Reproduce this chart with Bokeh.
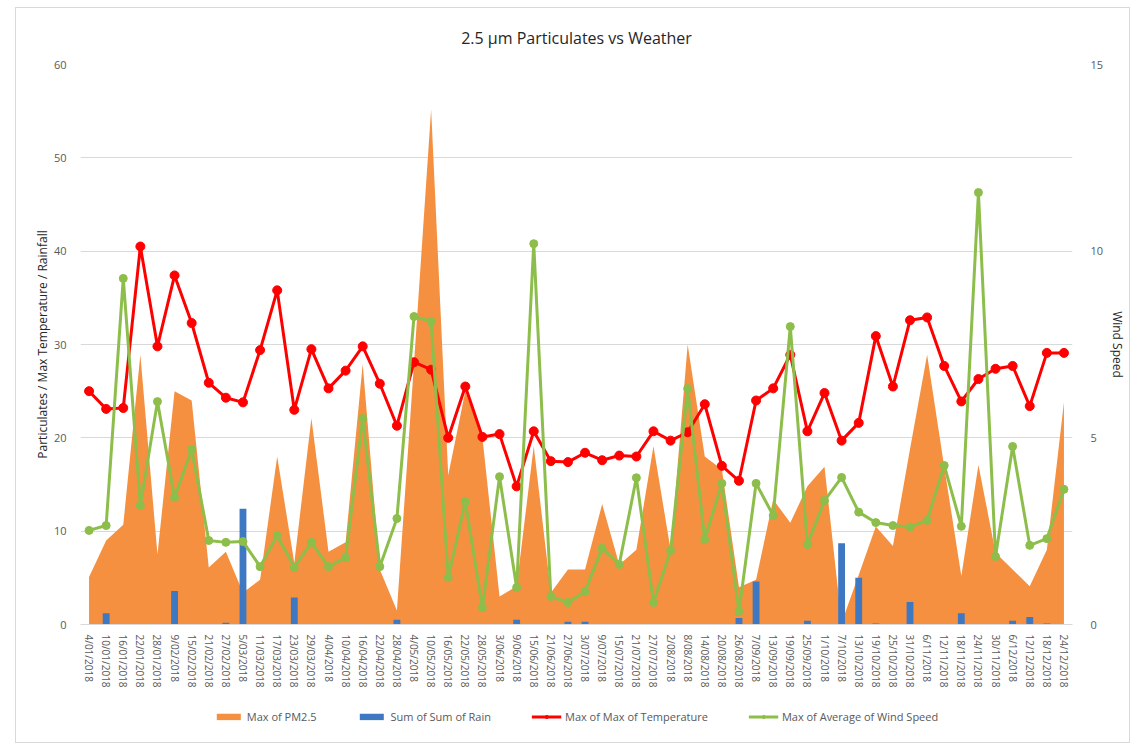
from bokeh.plotting import figure
from bokeh.models import (FactorRange, Range1d, LinearAxis, FixedTicker, Legend, LegendItem)
from bokeh.layouts import column
from bokeh.embed import file_html
from bokeh.resources import INLINE

dates = ["4/01/2018", "10/01/2018", "16/01/2018", "22/01/2018", "28/01/2018", "9/02/2018",
         "15/02/2018", "21/02/2018", "27/02/2018", "5/03/2018", "11/03/2018", "17/03/2018",
         "23/03/2018", "29/03/2018", "4/04/2018", "10/04/2018", "16/04/2018", "22/04/2018",
         "28/04/2018", "4/05/2018", "10/05/2018", "16/05/2018", "22/05/2018", "28/05/2018",
         "3/06/2018", "9/06/2018", "15/06/2018", "21/06/2018", "27/06/2018", "3/07/2018",
         "9/07/2018", "15/07/2018", "21/07/2018", "27/07/2018", "2/08/2018", "8/08/2018",
         "14/08/2018", "20/08/2018", "26/08/2018", "7/09/2018", "13/09/2018", "19/09/2018",
         "25/09/2018", "1/10/2018", "7/10/2018", "13/10/2018", "19/10/2018", "25/10/2018",
         "31/10/2018", "6/11/2018", "12/11/2018", "18/11/2018", "24/11/2018", "30/11/2018",
         "6/12/2018", "12/12/2018", "18/12/2018", "24/12/2018"]

pm25 = [5.1, 9.0, 10.7, 28.9, 7.5, 25.0, 24.0, 6.1, 7.8, 3.4, 4.8, 18.0, 6.6, 22.1, 7.8, 8.8,
        27.9, 5.9, 1.5, 28.0, 55.2, 16.0, 25.0, 20.0, 3.0, 4.1, 19.1, 3.4, 5.9, 5.9, 12.9, 6.4,
        8.0, 19.1, 8.0, 30.0, 18.0, 16.6, 4.0, 4.8, 13.4, 10.9, 14.8, 16.9, 0.2, 5.3, 10.5, 8.4,
        18.8, 28.9, 16.9, 5.2, 17.1, 7.7, 5.9, 4.1, 8.0, 23.8]

rain = [0, 1.2, 0, 0, 0, 3.6, 0, 0, 0.2, 12.4, 0, 0, 2.9, 0, 0, 0, 0, 0, 0.5, 0, 0, 0, 0, 0,
        0, 0.5, 0, 0, 0.3, 0.3, 0, 0, 0, 0, 0, 0, 0, 0, 0.7, 4.6, 0, 0, 0.4, 0, 8.7, 5.0, 0.1,
        0, 2.4, 0, 0, 1.2, 0, 0, 0.4, 0.8, 0.1, 0]

temperature = [25.0, 23.1, 23.2, 40.5, 29.8, 37.4, 32.3, 25.9, 24.3, 23.8, 29.4, 35.8, 23.0,
               29.5, 25.3, 27.2, 29.8, 25.8, 21.3, 28.1, 27.3, 20.0, 25.5, 20.1, 20.4, 14.8,
               20.7, 17.5, 17.4, 18.4, 17.6, 18.1, 18.0, 20.7, 19.7, 20.6, 23.6, 17.0, 15.4,
               24.0, 25.3, 28.9, 20.7, 24.8, 19.7, 21.6, 30.9, 25.5, 32.6, 32.9, 27.7, 23.9,
               26.3, 27.4, 27.7, 23.4, 29.1, 29.1]

wind = [2.52, 2.65, 9.27, 3.19, 5.97, 3.40, 4.69, 2.25, 2.20, 2.22, 1.55, 2.38, 1.53, 2.20,
        1.55, 1.79, 5.52, 1.55, 2.84, 8.25, 8.12, 1.26, 3.29, 0.45, 3.96, 0.99, 10.2, 0.75,
        0.59, 0.88, 2.04, 1.61, 3.93, 0.59, 1.98, 6.32, 2.28, 3.78, 0.35, 3.78, 2.92, 7.98,
        2.14, 3.32, 3.94, 3.01, 2.73, 2.65, 2.61, 2.79, 4.26, 2.63, 11.57, 1.82, 4.77, 2.12,
        2.30, 3.62]

left_ticks = [0, 10, 20, 30, 40, 50, 60]
right_ticks = [0, 5, 10, 15]

FONT = "Open Sans"
TXT = "#595959"
C_PM, C_RAIN, C_TEMP, C_WIND = "#F4903F", "#3F78C2", "#FF0000", "#8DBE4B"


def draw_series(fig, yname):
    r_area = fig.varea(x=dates, y1=[0] * len(dates), y2=pm25, fill_color=C_PM)
    r_bar = fig.vbar(x=dates, top=rain, width=0.4, fill_color=C_RAIN, line_color=None)
    r_tl = fig.line(x=dates, y=temperature, line_color=C_TEMP, line_width=3)
    r_ts = fig.scatter(x=dates, y=temperature, size=9, fill_color=C_TEMP, line_color=C_TEMP)
    r_wl = fig.line(x=dates, y=wind, line_color=C_WIND, line_width=3, y_range_name=yname)
    r_ws = fig.scatter(x=dates, y=wind, size=8, fill_color=C_WIND, line_color=C_WIND,
                       y_range_name=yname)
    return r_area, r_bar, r_tl, r_ts, r_wl, r_ws


p = figure(x_range=FactorRange(*dates, range_padding=0), y_range=Range1d(0, 60),
           frame_width=992, frame_height=560, output_backend="svg", toolbar_location=None,
           min_border_left=64, min_border_right=56, min_border_top=50, min_border_bottom=0,
           title="2.5 µm Particulates vs Weather")
p.extra_y_ranges = {"wind": Range1d(0, 15)}

p.title.align = "center"
p.title.text_font = FONT
p.title.text_font_size = "16px"
p.title.text_font_style = "normal"
p.title.text_color = "#262626"
p.title.standoff = 32

p.outline_line_color = None
p.xgrid.grid_line_color = None
p.ygrid.grid_line_color = "#d9d9d9"
p.ygrid.ticker = FixedTicker(ticks=left_ticks)

draw_series(p, "wind")

ya = p.yaxis[0]
ya.ticker = FixedTicker(ticks=left_ticks)
ya.axis_label = "Particulates / Max Temperature / Rainfall"

ra = LinearAxis(y_range_name="wind", ticker=FixedTicker(ticks=right_ticks), axis_label="Wind Speed")
p.add_layout(ra, "right")

for ax in [ya, ra]:
    ax.axis_line_color = None
    ax.major_tick_line_color = None
    ax.minor_tick_line_color = None
    ax.major_label_text_font = FONT
    ax.major_label_text_font_size = "11px"
    ax.major_label_text_color = TXT
    ax.axis_label_text_font = FONT
    ax.axis_label_text_font_size = "12px"
    ax.axis_label_text_font_style = "normal"
    ax.axis_label_text_color = "#262626"
ya.major_label_standoff = 8
ya.axis_label_standoff = 0
ra.major_label_standoff = 12
ra.axis_label_standoff = 3

xa = p.xaxis[0]
xa.axis_line_color = "#d9d9d9"
xa.major_tick_line_color = None
xa.minor_tick_line_color = None
xa.major_label_orientation = "vertical"
xa.major_label_text_font = FONT
xa.major_label_text_font_size = "10px"
xa.major_label_text_color = TXT
xa.major_label_standoff = 4

# legend strip: a small figure whose ranges keep its copies of the series out of view
lf = figure(width=1112, height=52, output_backend="svg", toolbar_location=None,
            x_range=FactorRange(*dates, range_padding=0), y_range=Range1d(1000, 1001),
            min_border_left=0, min_border_right=0, min_border_top=0, min_border_bottom=0)
lf.extra_y_ranges = {"wind": Range1d(1000, 1001)}
lf.axis.visible = False
lf.grid.visible = False
lf.outline_line_color = None
la, lb, ltl, lts, lwl, lws = draw_series(lf, "wind")

legend = Legend(items=[
    LegendItem(label="Max of PM2.5", renderers=[la]),
    LegendItem(label="Sum of Sum of Rain", renderers=[lb]),
    LegendItem(label="Max of Max of Temperature", renderers=[ltl, lts]),
    LegendItem(label="Max of Average of Wind Speed", renderers=[lwl, lws]),
], orientation="horizontal", location="center")
legend.label_text_font = FONT
legend.label_text_font_size = "11px"
legend.label_text_color = TXT
legend.border_line_color = None
legend.background_fill_alpha = 0
legend.spacing = 40
legend.glyph_width = 30
legend.glyph_height = 8
legend.label_standoff = 4
legend.padding = 0
legend.margin = 0
lf.add_layout(legend)

layout = column(p, lf, spacing=0)
layout.styles = {"border": "1px solid #d9d9d9", "margin-left": "15px", "margin-top": "7px"}

open("out.html", "w").write(file_html(layout, INLINE))
